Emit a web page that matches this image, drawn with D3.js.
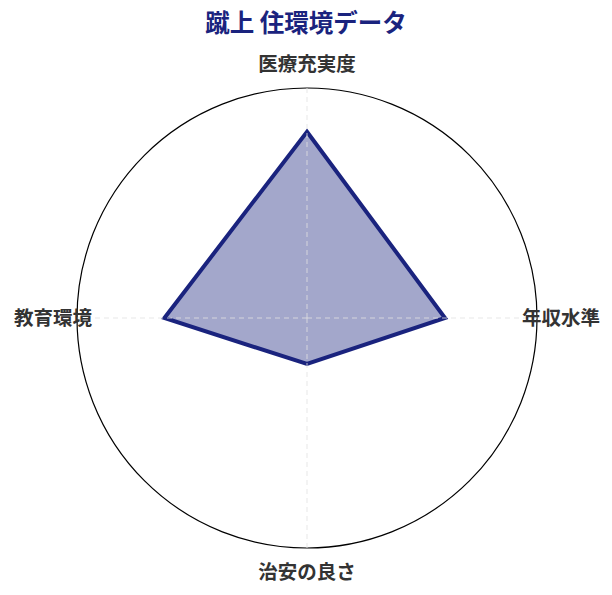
<!DOCTYPE html>
<html>
<head>
<meta charset="utf-8">
<script src="https://cdn.jsdelivr.net/npm/d3@7"></script>
<style>
  body { margin: 0; background: #fff; }
  text { font-family: "Noto Sans CJK JP", "Noto Sans", sans-serif; }
</style>
</head>
<body>
<div id="chart"></div>
<script>
// radar data
var title = "蹴上 住環境データ";
var axes = ["医療充実度", "年収水準", "治安の良さ", "教育環境"];
var values = [81, 60, 20, 62];
var maxValue = 100;

var width = 612, height = 595;
var cx = 307, cy = 318, radius = 230, labelRadius = 254;

var svg = d3.select("#chart").append("svg")
    .attr("width", width)
    .attr("height", height)
    .attr("viewBox", [0, 0, width, height]);

var r = d3.scaleLinear().domain([0, maxValue]).range([0, radius]);
var angle = d3.scalePoint().domain(axes.concat(["_end"])).range([0, 2 * Math.PI]);

var g = svg.append("g").attr("transform", "translate(" + cx + "," + cy + ")");

// outer circle
g.append("circle")
    .attr("r", r(maxValue))
    .attr("fill", "none")
    .attr("stroke", "#000")
    .attr("stroke-width", 1.2);

// polygon
var line = d3.lineRadial()
    .angle((d, i) => angle(axes[i]))
    .radius(d => r(d))
    .curve(d3.curveLinearClosed);

g.append("path")
    .datum(values)
    .attr("d", line)
    .attr("fill", "rgba(26,35,126,0.4)")
    .attr("stroke", "#1a237e")
    .attr("stroke-width", 4)
    .attr("stroke-linejoin", "miter");

// spokes
g.selectAll("line.spoke")
    .data(axes)
    .join("line")
    .attr("class", "spoke")
    .attr("x1", 0).attr("y1", 0)
    .attr("x2", d => r(maxValue) * Math.sin(angle(d)))
    .attr("y2", d => -r(maxValue) * Math.cos(angle(d)))
    .attr("stroke", "rgba(225,225,225,0.8)")
    .attr("stroke-width", 1)
    .attr("stroke-dasharray", "5,4");

// labels
g.selectAll("text.label")
    .data(axes)
    .join("text")
    .attr("class", "label")
    .attr("x", d => labelRadius * Math.sin(angle(d)))
    .attr("y", d => -labelRadius * Math.cos(angle(d)) - 2)
    .attr("text-anchor", "middle")
    .attr("dominant-baseline", "central")
    .attr("font-size", 19.5)
    .attr("font-weight", "bold")
    .attr("fill", "#333")
    .text(d => d);

svg.append("text")
    .attr("x", width / 2)
    .attr("y", 21)
    .attr("text-anchor", "middle")
    .attr("dominant-baseline", "central")
    .attr("font-size", 24.5)
    .attr("font-weight", "bold")
    .attr("fill", "#1a237e")
    .text(title);
</script>
</body>
</html>
